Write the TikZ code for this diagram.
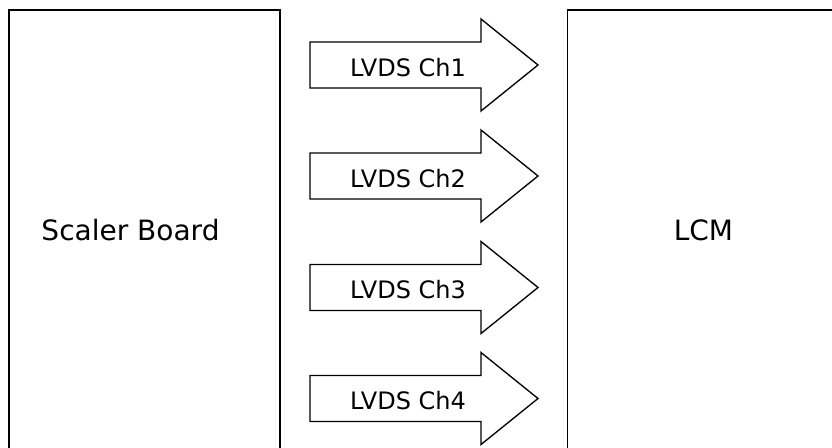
\documentclass[tikz,border=0pt]{standalone}
\usepackage{fontspec}
\setmainfont{DejaVu Sans}
\begin{document}
\begin{tikzpicture}[
  x=0.75pt, y=-0.75pt,
  board/.style={draw, line width=1pt},
  boardlabel/.style={font=\fontsize{21}{25}\selectfont, anchor=base},
  lvds/.style={draw, line width=1pt, fill=white, line join=miter},
  lvdslabel/.style={font=\fontsize{18}{21}\selectfont, anchor=base},
]
  \clip (0,0) rectangle (832,447);
  \useasboundingbox (0,0) rectangle (832,447);

  % boards
  \draw[board] (9,10) rectangle (280,470);
  \node[boardlabel] (scaler) at (130.5,240.5) {Scaler Board};
  \draw[board] (567.5,10) rectangle (860,470);
  \node[boardlabel] (lcm) at (703.5,240) {LCM};

  % LVDS channels
  \foreach \i/\y in {1/65, 2/176, 3/287.5, 4/398.5} {
    \draw[lvds] (310,\y-23) -- (481,\y-23) -- (481,\y-46) -- (538,\y)
      -- (481,\y+46) -- (481,\y+23) -- (310,\y+23) -- cycle;
    \node[lvdslabel] (ch\i) at (408,\y+11.4) {LVDS Ch\i};
  }
\end{tikzpicture}
\end{document}
